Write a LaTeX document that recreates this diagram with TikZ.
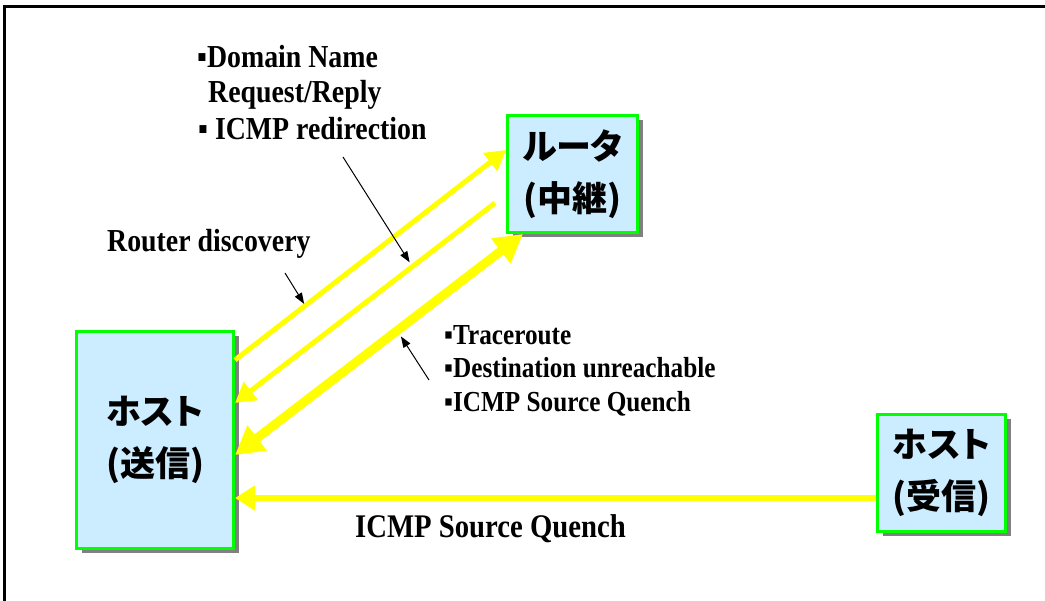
\documentclass[tikz,border=0pt]{standalone}
\usepackage{fontspec}
\setmainfont{Liberation Serif}[FakeStretch=0.87]
\newfontfamily\cjk{Noto Sans CJK JP}[RawFeature=+palt]
\usepackage{tikz}
\usetikzlibrary{arrows.meta, shadows}
\definecolor{boxblue}{HTML}{CCECFF}
\definecolor{boxgreen}{HTML}{00FF00}
\definecolor{arryellow}{HTML}{FFFF00}
\definecolor{shadowgray}{HTML}{808080}

\begin{document}
\begin{tikzpicture}[x=1pt, y=-1pt,
    hostbox/.style={draw=boxgreen, line width=3pt, fill=boxblue, align=center,
        font=\cjk\bfseries\fontsize{35}{52}\selectfont,
        drop shadow={shadow xshift=5pt, shadow yshift=-5pt, fill=shadowgray, opacity=1}},
    txt/.style={anchor=base west, inner sep=0pt, font=\bfseries\fontsize{32}{36}\selectfont},
    smalltxt/.style={txt, font=\bfseries\fontsize{29}{34}\selectfont},
    yarrow/.style={draw=arryellow, line width=5pt, -{Triangle[length=20pt,width=22pt]}},
    pointer/.style={line width=1pt, -{Triangle[length=11pt,width=8pt]}}
]
    \useasboundingbox (0,0) rectangle (1045,601);
    \draw[line width=3pt] (4,610) |- (1050,7);

    \node[hostbox, minimum width=157pt, minimum height=217pt] (snd) at (155,440) {ホスト\\(送信)};
    \node[hostbox, minimum width=130pt, minimum height=117pt] (rtr) at (572.5,174) {ルータ\\(中継)};
    \node[hostbox, minimum width=128pt, minimum height=117pt] (rcv) at (941.5,473) {ホスト\\(受信)};

    \draw[yarrow] ([yshift=80pt]snd.east) -- coordinate[pos=0.259] (rdhit) ([yshift=24pt]rtr.west);
    \draw[yarrow] ([xshift=-11pt,yshift=-29pt]rtr.west) -- coordinate[pos=0.318] (dnshit) ([yshift=37pt]snd.east);
    \draw[yarrow, line width=9pt, {Triangle[length=28pt,width=30pt]}-{Triangle[length=28pt,width=30pt]}]
        ([yshift=-15pt]snd.east) -- coordinate[pos=0.563] (trhit) ([xshift=17pt]rtr.south west);
    \draw[yarrow, line width=6pt, -{Triangle[length=20pt,width=24pt]}] ([yshift=-25pt]rcv.west) -- ([yshift=-58pt]snd.east);

    \node[txt] (dns1) at (197,68) {▪Domain Name};
    \node[txt] (dns2) at (208,103) {Request/Reply};
    \node[txt] (dns3) at (198,140) {▪ ICMP redirection};
    \node[txt] (rd) at (107,252) {Router discovery};
    \node[smalltxt] (tr1) at (444,345) {▪Traceroute};
    \node[smalltxt] (tr2) at (444,378) {▪Destination unreachable};
    \node[smalltxt] (tr3) at (444,412) {▪ICMP Source Quench};
    \node[txt, font=\bfseries\fontsize{33}{36}\selectfont] (sq) at (355,537) {ICMP Source Quench};

    \coordinate (rdtail) at (285,273);
    \coordinate (dnstail) at (343,157);
    \coordinate (trtail) at (429,380);
    \draw[pointer, shorten >=2pt] (rdtail) -- (rdhit);
    \draw[pointer, shorten >=5pt] (dnstail) -- (dnshit);
    \draw[pointer, shorten >=7pt] (trtail) -- (trhit);
\end{tikzpicture}
\end{document}
